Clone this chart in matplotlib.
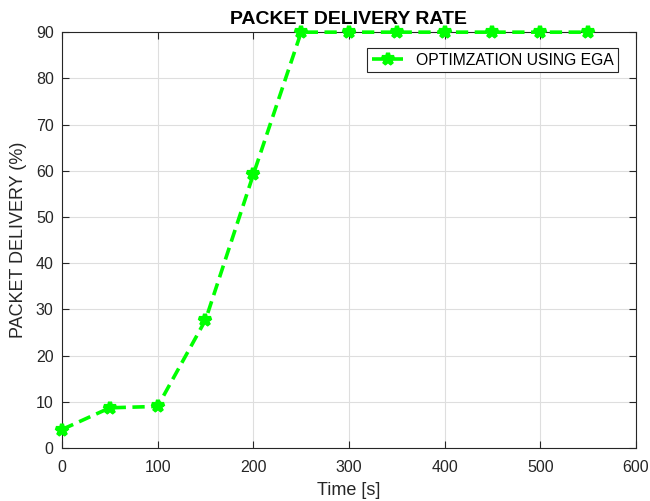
import matplotlib
matplotlib.use("Agg")
import matplotlib.pyplot as plt

plt.rcParams['font.family'] = ['Liberation Sans', 'DejaVu Sans']

time_s = [0, 50, 100, 150, 200, 250, 300, 350, 400, 450, 500, 550]
delivery = [4.0, 8.7, 9.0, 27.7, 59.2, 90, 90, 90, 90, 90, 90, 90]
series_label = "OPTIMZATION USING EGA"

fig = plt.figure(figsize=(6.5, 5.01), dpi=100)
ax = fig.add_axes([0.0954, 0.1058, 0.883, 0.830])
ax.plot(time_s, delivery, color='#00ff00', linestyle='--', linewidth=2.6,
        marker='*', markersize=9, markeredgewidth=3, dashes=(3.4, 1.8),
        label=series_label, clip_on=False, zorder=3)
ax.set_xlim(0, 600)
ax.set_ylim(0, 90)
ax.set_xticks(range(0, 601, 100))
ax.set_yticks(range(0, 91, 10))
ax.grid(True, color='#dedede', linewidth=0.8)
ax.set_axisbelow(True)
for s in ax.spines.values():
    s.set_color('#262626')
    s.set_linewidth(0.8)
ax.tick_params(direction='in', length=5, labelsize=11.5, colors='#262626',
               top=True, right=True)
ax.tick_params(axis='x', pad=9)
ax.tick_params(axis='y', pad=6)
ax.set_xlabel('Time [s]', fontsize=13, color='#262626', labelpad=5)
ax.set_ylabel('PACKET DELIVERY (%)', fontsize=13, color='#262626', labelpad=6)
ax.set_title('PACKET DELIVERY RATE', fontsize=14, fontweight='bold', pad=6)
leg = ax.legend(loc='upper right', bbox_to_anchor=(0.983, 0.981), fontsize=11.3,
                fancybox=False, edgecolor='#262626', framealpha=1,
                handlelength=2.0, borderpad=0.3)
leg.get_frame().set_linewidth(0.8)
fig.savefig('out.png', dpi=100)
